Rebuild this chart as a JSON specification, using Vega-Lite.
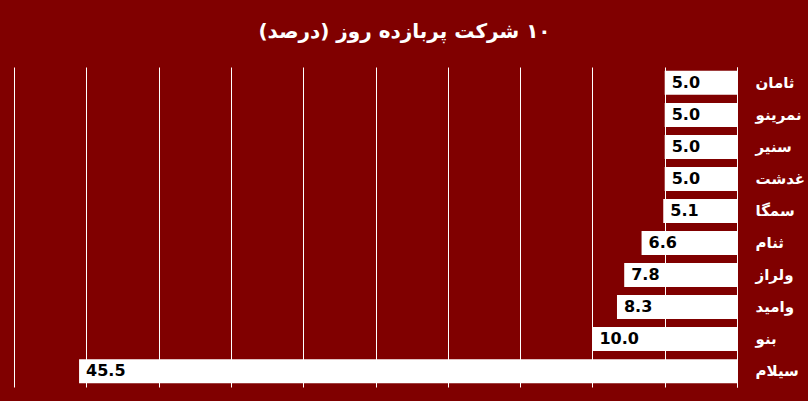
{
  "$schema": "https://vega.github.io/schema/vega-lite/v6.json",
  "width": 723,
  "height": 320,
  "autosize": {"type": "none"},
  "padding": {"left": 14, "top": 67, "right": 71, "bottom": 14},
  "background": "#800000",
  "config": {"view": {"stroke": null}},
  "title": {
    "text": "\u200F۱۰ شرکت پربازده روز (درصد)\u200F",
    "color": "white",
    "font": "DejaVu Sans",
    "fontSize": 20,
    "fontWeight": "bold",
    "anchor": "middle",
    "dx": 29,
    "offset": 25
  },
  "data": {
    "values": [
      {"name": "ثامان", "value": 5.0},
      {"name": "نمرینو", "value": 5.0},
      {"name": "سنیر", "value": 5.0},
      {"name": "غدشت", "value": 5.0},
      {"name": "سمگا", "value": 5.1},
      {"name": "ثنام", "value": 6.6},
      {"name": "ولراز", "value": 7.8},
      {"name": "وامید", "value": 8.3},
      {"name": "بنو", "value": 10.0},
      {"name": "سیلام", "value": 45.5}
    ]
  },
  "encoding": {
    "y": {
      "field": "name",
      "type": "nominal",
      "sort": ["ثامان", "نمرینو", "سنیر", "غدشت", "سمگا", "ثنام", "ولراز", "وامید", "بنو", "سیلام"],
      "scale": {"paddingInner": 0.25, "paddingOuter": 0.12},
      "axis": {
        "orient": "right",
        "title": null,
        "domainColor": "white",
        "domainWidth": 1,
        "ticks": false,
        "grid": false,
        "labelColor": "white",
        "labelFont": "DejaVu Sans",
        "labelFontSize": 15,
        "labelFontWeight": "bold",
        "labelPadding": 18
      }
    }
  },
  "layer": [
    {
      "mark": {"type": "bar", "color": "white"},
      "encoding": {
        "x": {
          "field": "value",
          "type": "quantitative",
          "scale": {"domain": [0, 50], "reverse": true, "nice": false},
          "axis": {
            "values": [0, 5, 10, 15, 20, 25, 30, 35, 40, 45, 50],
            "grid": true,
            "gridColor": "white",
            "gridWidth": 1,
            "gridOpacity": 1,
            "labels": false,
            "ticks": false,
            "domain": false,
            "title": null
          }
        }
      }
    },
    {
      "mark": {
        "type": "text",
        "align": "left",
        "baseline": "middle",
        "dx": 7,
        "font": "DejaVu Sans",
        "fontSize": 16,
        "fontWeight": "bold",
        "color": "black"
      },
      "encoding": {
        "x": {"field": "value", "type": "quantitative"},
        "text": {"field": "value", "type": "quantitative", "format": ".1f"}
      }
    }
  ]
}
